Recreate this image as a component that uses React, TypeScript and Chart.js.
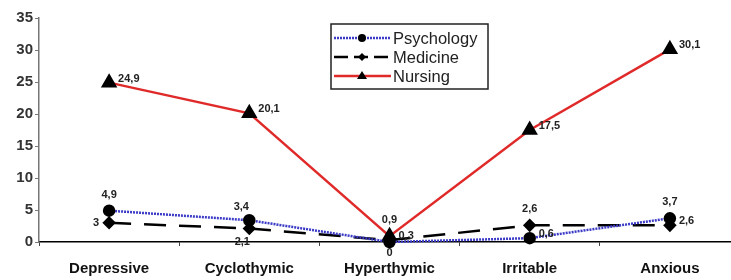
import React, { useEffect, useRef } from "react";
import { Chart, registerables } from "chart.js";

Chart.register(...registerables);

const categories = ["Depressive", "Cyclothymic", "Hyperthymic", "Irritable", "Anxious"];
const psychology = [4.9, 3.4, 0, 0.6, 3.7];
const medicine = [3, 2.1, 0.3, 2.6, 2.6];
const nursing = [24.9, 20.1, 0.9, 17.5, 30.1];
const psychologyLabels = ["4,9", "3,4", "0", "0,6", "3,7"];
const medicineLabels = ["3", "2,1", "0,3", "2,6", "2,6"];
const nursingLabels = ["24,9", "20,1", "0,9", "17,5", "30,1"];
const yTicks = [0, 5, 10, 15, 20, 25, 30, 35];

// label placement (style, not data)
const psyPlace = ["above", "aboveLeft", "below", "right", "above"];
const medPlace = ["left", "belowLeft", "right", "above", "right"];
const nurPlace = ["right", "right", "above", "right", "right"];

const FONT = "'Liberation Sans', Arial, sans-serif";

const labelPlugin = {
  id: "pointLabels",
  afterDatasetsDraw(chart: any) {
    const ctx = chart.ctx;
    const sets = [
      { idx: 0, labels: psychologyLabels, place: psyPlace },
      { idx: 1, labels: medicineLabels, place: medPlace },
      { idx: 2, labels: nursingLabels, place: nurPlace },
    ];
    ctx.save();
    ctx.font = `bold 11px ${FONT}`;
    ctx.fillStyle = "#222";
    sets.forEach((s) => {
      const meta = chart.getDatasetMeta(s.idx);
      meta.data.forEach((pt: any, i: number) => {
        const p = s.place[i];
        let x = pt.x, y = pt.y;
        ctx.textBaseline = "middle";
        if (p === "right") { ctx.textAlign = "left"; x += 9; y -= 4; }
        else if (p === "left") { ctx.textAlign = "right"; x -= 10; }
        else if (p === "above") { ctx.textAlign = "center"; y -= 16; }
        else if (p === "below") { ctx.textAlign = "center"; y += 11; }
        else if (p === "aboveLeft") { ctx.textAlign = "center"; x -= 8; y -= 13; }
        else if (p === "belowLeft") { ctx.textAlign = "center"; x -= 7; y += 13; }
        ctx.fillText(s.labels[i], x, y);
      });
    });
    ctx.restore();
  },
};

const legendPlugin = {
  id: "boxLegend",
  afterDraw(chart: any) {
    const ctx = chart.ctx;
    const bx = 331, by = 24, bw = 157, bh = 65;
    ctx.save();
    ctx.fillStyle = "#fff";
    ctx.fillRect(bx, by, bw, bh);
    ctx.strokeStyle = "#222";
    ctx.lineWidth = 1.5;
    ctx.strokeRect(bx, by, bw, bh);
    const items = [
      { text: "Psychology", color: "#3b3bc8", dash: [2, 1], marker: "circle" },
      { text: "Medicine", color: "#000", dash: [14, 6], marker: "diamond" },
      { text: "Nursing", color: "#e02a2a", dash: [], marker: "triangle" },
    ];
    items.forEach((it, i) => {
      const y = by + 14 + i * 19;
      ctx.strokeStyle = it.color;
      ctx.lineWidth = 2.5;
      ctx.setLineDash(it.dash);
      ctx.beginPath();
      ctx.moveTo(bx + 3, y);
      ctx.lineTo(bx + 60, y);
      ctx.stroke();
      ctx.setLineDash([]);
      ctx.fillStyle = "#000";
      const cx = bx + 31;
      ctx.beginPath();
      if (it.marker === "circle") {
        ctx.arc(cx, y, 4, 0, Math.PI * 2);
      } else if (it.marker === "diamond") {
        ctx.moveTo(cx, y - 4); ctx.lineTo(cx + 4, y); ctx.lineTo(cx, y + 4); ctx.lineTo(cx - 4, y);
        ctx.closePath();
      } else {
        ctx.moveTo(cx, y - 5); ctx.lineTo(cx + 5, y + 3); ctx.lineTo(cx - 5, y + 3);
        ctx.closePath();
      }
      ctx.fill();
      ctx.fillStyle = "#222";
      ctx.font = `16.5px ${FONT}`;
      ctx.textAlign = "left";
      ctx.textBaseline = "middle";
      ctx.fillText(it.text, bx + 62, y + 1);
    });
    ctx.restore();
  },
};

export default function App() {
  const ref = useRef<HTMLCanvasElement | null>(null);
  useEffect(() => {
    if (!ref.current) return;
    const chart = new Chart(ref.current, {
      type: "line",
      data: {
        labels: categories,
        datasets: [
          {
            label: "Psychology",
            data: psychology,
            borderColor: "#3b3bc8",
            borderWidth: 2.5,
            borderDash: [2, 1],
            pointStyle: "circle",
            pointRadius: 5,
            pointBackgroundColor: "#000",
            pointBorderColor: "#000",
            tension: 0,
            clip: false,
          },
          {
            label: "Medicine",
            data: medicine,
            borderColor: "#000",
            borderWidth: 2.5,
            borderDash: [22, 13],
            pointStyle: "rectRot",
            pointRadius: 5,
            pointBackgroundColor: "#000",
            pointBorderColor: "#000",
            tension: 0,
            clip: false,
          },
          {
            label: "Nursing",
            data: nursing,
            borderColor: "#e02a2a",
            borderWidth: 2.5,
            pointStyle: "triangle",
            pointRadius: 7,
            pointBackgroundColor: "#000",
            pointBorderColor: "#000",
            tension: 0,
            clip: false,
          },
        ],
      },
      options: {
        animation: false,
        responsive: false,
        maintainAspectRatio: false,
        layout: { autoPadding: false, padding: { top: 18, right: 0, left: 0, bottom: 0 } },
        plugins: { legend: { display: false }, tooltip: { enabled: false } },
        scales: {
          x: {
            offset: true,
            afterFit: (s: any) => { s.height = 38; s.paddingLeft = 0; s.paddingRight = 0; },
            grid: { display: true, offset: true, drawOnChartArea: false, tickLength: 4, color: "#444" },
            border: { color: "#000", width: 1.5 },
            ticks: { color: "#111", font: { family: FONT, size: 15, weight: "bold" }, padding: 14 },
          },
          y: {
            min: 0,
            max: 35,
            afterFit: (s: any) => { s.width = 39; },
            afterBuildTicks: (s: any) => { s.ticks = yTicks.map((v) => ({ value: v })); },
            grid: { display: true, drawOnChartArea: false, tickLength: 4, color: "#777" },
            border: { color: "#777", width: 1.5 },
            ticks: { color: "#333", font: { family: FONT, size: 15, weight: "bold" }, padding: 2 },
          },
        },
      },
      plugins: [labelPlugin, legendPlugin],
    } as any);
    return () => chart.destroy();
  }, []);
  return (
    <div style={{ position: "absolute", left: 0, top: 0, width: 731, height: 280, overflow: "hidden", background: "#fff" }}>
      <canvas ref={ref} width={740} height={280} style={{ width: 740, height: 280, maxWidth: "none" }} />
    </div>
  );
}
